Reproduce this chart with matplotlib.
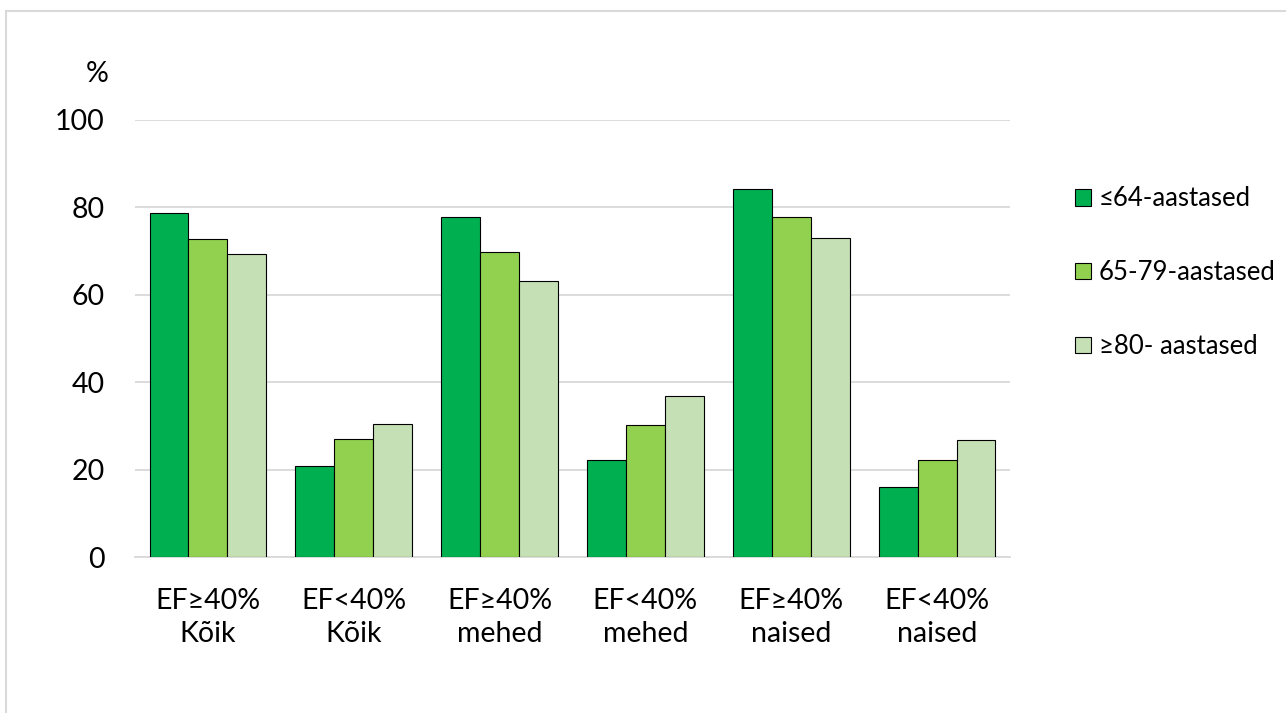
import matplotlib.pyplot as plt
import numpy as np
from matplotlib.patches import Rectangle

plt.rcParams['font.family'] = ['Lato', 'DejaVu Sans']

categories = ["EF≥40%\nKõik", "EF<40%\nKõik", "EF≥40%\nmehed",
              "EF<40%\nmehed", "EF≥40%\nnaised", "EF<40%\nnaised"]
series_names = ["≤64-aastased", "65-79-aastased", "≥80- aastased"]
age_64 = [78.8, 20.9, 77.8, 22.2, 84.2, 16.0]
age_65_79 = [72.8, 27.1, 69.9, 30.1, 77.8, 22.2]
age_80 = [69.4, 30.4, 63.1, 36.8, 73.1, 26.8]
colors = ["#00B050", "#92D050", "#C5E0B4"]
yticks = [0, 20, 40, 60, 80, 100]

fig = plt.figure(figsize=(12.86, 7.13), dpi=100)
ax = fig.add_axes([135/1286, 1-557/713, 875/1286, 437/713])

# light gray chart border, only left and top edges inside the picture
fig.patches.append(Rectangle((6/1286, -0.1), 1.2, 1.1-11/713, transform=fig.transFigure,
                             fill=False, edgecolor="#D9D9D9", linewidth=1.5))

x = np.arange(len(categories))
width = 0.8 / 3
for i, (vals, name) in enumerate(zip([age_64, age_65_79, age_80], series_names)):
    ax.bar(x + (i - 1) * width, vals, width, color=colors[i], edgecolor="black",
           linewidth=0.8, label=name, zorder=3)

ax.set_xlim(-0.5, len(categories) - 0.5)
ax.set_ylim(0, 100)
ax.set_yticks(yticks)
ax.set_xticks(x)
ax.set_xticklabels(categories, linespacing=1.35)
ax.tick_params(axis="both", length=0, labelsize=20.5, colors="black")
ax.tick_params(axis="x", pad=22)
ax.tick_params(axis="y", pad=22)
ax.grid(axis="y", color="#D9D9D9", linewidth=1.3, zorder=0)
for s in ["top", "right", "left"]:
    ax.spines[s].set_visible(False)
ax.spines["bottom"].set_color("#D9D9D9")
ax.spines["bottom"].set_linewidth(1.3)

fig.text(97/1286, 1-74/713, "%", fontsize=20.5, ha="center", va="center")

ax.legend(loc="upper left", bbox_to_anchor=(1065/1286, 1-176/713),
          bbox_transform=fig.transFigure, frameon=False, fontsize=18.5,
          handlelength=0.62, handleheight=0.62, handletextpad=0.3,
          labelspacing=1.9, borderaxespad=0)

fig.savefig("out.png", dpi=100)
